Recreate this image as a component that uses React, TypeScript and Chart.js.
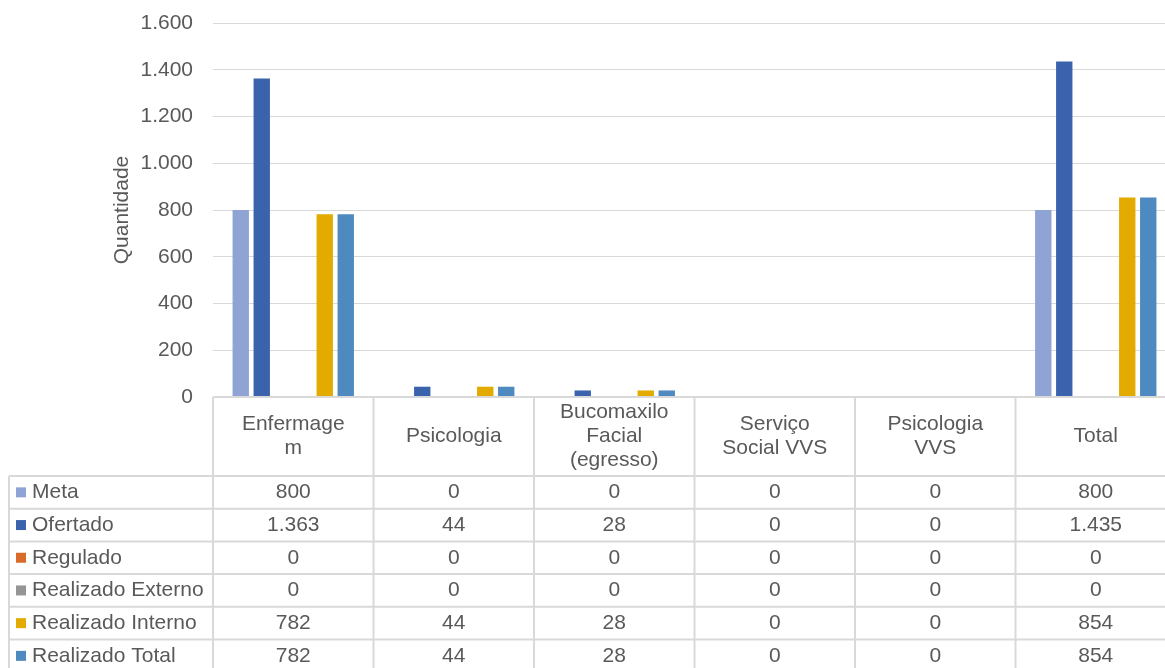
import React, { useEffect, useRef } from "react";
import { Chart, registerables } from "chart.js";

Chart.register(...registerables);

const categories: string[][] = [
  ["Enfermage", "m"],
  ["Psicologia"],
  ["Bucomaxilo", "Facial", "(egresso)"],
  ["Serviço", "Social VVS"],
  ["Psicologia", "VVS"],
  ["Total"],
];
const seriesNames = [
  "Meta",
  "Ofertado",
  "Regulado",
  "Realizado Externo",
  "Realizado Interno",
  "Realizado Total",
];
const meta = [800, 0, 0, 0, 0, 800];
const ofertado = [1363, 44, 28, 0, 0, 1435];
const regulado = [0, 0, 0, 0, 0, 0];
const realizadoExterno = [0, 0, 0, 0, 0, 0];
const realizadoInterno = [782, 44, 28, 0, 0, 854];
const realizadoTotal = [782, 44, 28, 0, 0, 854];
const seriesValues = [meta, ofertado, regulado, realizadoExterno, realizadoInterno, realizadoTotal];
const seriesColors = ["#8FA4D5", "#3B63AD", "#D86B2A", "#959595", "#E3AA00", "#4E8ABF"];
const yMin = 0;
const yMax = 1600;
const yStep = 200;
const yTitle = "Quantidade";

const FONT = '"Liberation Sans", Arial, sans-serif';
const FS = 21;
const TEXT = "#595959";
const LINE = "#D9D9D9";

const fmt = (v: number) => String(v).replace(/\B(?=(\d{3})+(?!\d))/g, ".");

const tablePlugin = {
  id: "dataTable",
  afterDraw(chart: any) {
    const { ctx, chartArea } = chart;
    const H = chart.height;
    const L = chartArea.left;
    const R = chartArea.right;
    const B = chartArea.bottom;
    const n = categories.length;
    const cw = (R - L) / n;
    const headerBottom = 476;
    const rowH = 32.7;
    const legendLeft = 9;

    ctx.save();
    ctx.strokeStyle = LINE;
    ctx.lineWidth = 2;
    const line = (x1: number, y1: number, x2: number, y2: number) => {
      ctx.beginPath();
      ctx.moveTo(x1, y1);
      ctx.lineTo(x2, y2);
      ctx.stroke();
    };
    line(L, B, R, B);
    for (let i = 0; i <= n; i++) {
      const x = L + i * cw;
      line(x, B, x, H);
    }
    line(legendLeft, headerBottom, legendLeft, H);
    for (let k = 0; k <= seriesNames.length; k++) {
      const y = headerBottom + k * rowH;
      line(legendLeft, y, R, y);
    }

    ctx.fillStyle = TEXT;
    ctx.font = `${FS}px ${FONT}`;
    ctx.textAlign = "center";
    ctx.textBaseline = "middle";
    const headerMid = (B + headerBottom) / 2;
    categories.forEach((lines, i) => {
      const cx = L + (i + 0.5) * cw;
      const y0 = headerMid - ((lines.length - 1) * 24) / 2;
      lines.forEach((t, j) => ctx.fillText(t, cx, y0 + j * 24));
    });

    seriesNames.forEach((name, k) => {
      const cy = headerBottom + (k + 0.5) * rowH;
      ctx.fillStyle = seriesColors[k];
      ctx.fillRect(16, cy - 5, 10, 10);
      ctx.fillStyle = TEXT;
      ctx.textAlign = "left";
      ctx.fillText(name, 32, cy);
      ctx.textAlign = "center";
      seriesValues[k].forEach((v, i) => {
        ctx.fillText(fmt(v), L + (i + 0.5) * cw, cy);
      });
    });
    ctx.restore();
  },
};

export default function App() {
  const ref = useRef<HTMLCanvasElement | null>(null);
  useEffect(() => {
    if (!ref.current) return;
    Chart.defaults.font.family = FONT;
    const chart = new Chart(ref.current, {
      type: "bar",
      data: {
        labels: categories.map((c) => c.join(" ")),
        datasets: seriesNames.map((name, k) => ({
          label: name,
          data: seriesValues[k],
          backgroundColor: seriesColors[k],
          borderWidth: 0,
          categoryPercentage: 0.785,
          barPercentage: 0.78,
        })),
      },
      options: {
        responsive: false,
        animation: false,
        layout: { padding: { top: 23, bottom: 271, left: 0, right: 2 } },
        plugins: { legend: { display: false }, tooltip: { enabled: false } },
        scales: {
          x: { display: false },
          y: {
            min: yMin,
            max: yMax,
            afterFit(scale: any) {
              scale.width = 213;
              scale.paddingTop = 0;
              scale.paddingBottom = 0;
            },
            ticks: {
              stepSize: yStep,
              padding: 20,
              color: TEXT,
              font: { size: FS, family: FONT },
              callback: (v: any) => fmt(Number(v)),
            },
            grid: { color: LINE, lineWidth: 1, drawTicks: false },
            border: { display: false },
            title: {
              display: true,
              text: yTitle,
              color: TEXT,
              font: { size: FS, family: FONT },
              padding: { top: 110, bottom: 0 },
            },
          },
        },
      },
      plugins: [tablePlugin],
    });
    return () => chart.destroy();
  }, []);
  return (
    <div
      style={{
        position: "absolute",
        left: 0,
        top: 0,
        width: 1165,
        height: 668,
        overflow: "hidden",
        background: "#fff",
      }}
    >
      <canvas ref={ref} width={1178} height={668} style={{ display: "block", width: 1178, height: 668 }} />
    </div>
  );
}
